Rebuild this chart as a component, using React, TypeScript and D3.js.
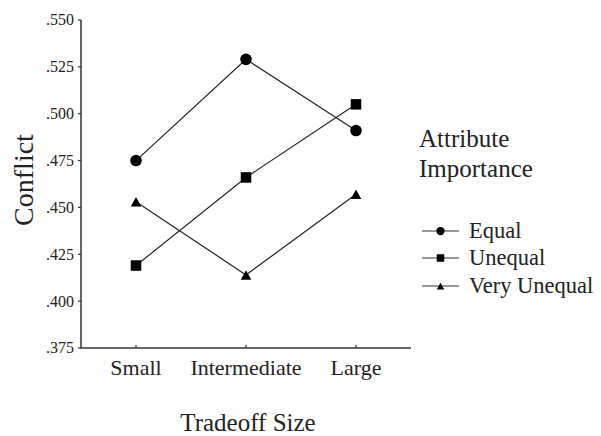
import React from "react";
import * as d3 from "d3";

const categories = ["Small", "Intermediate", "Large"];
const seriesNames = ["Equal", "Unequal", "Very Unequal"];
const equalValues = [0.475, 0.529, 0.491];
const unequalValues = [0.419, 0.466, 0.505];
const veryUnequalValues = [0.453, 0.414, 0.457];
const yTicks = [0.375, 0.4, 0.425, 0.45, 0.475, 0.5, 0.525, 0.55];
const markerShapes = ["circle", "square", "triangle"];

const W = 601;
const H = 436;
const FONT = "Liberation Serif, Times New Roman, Times, serif";

function Marker({ shape, x, y, s }: { shape: string; x: number; y: number; s: number }) {
  if (shape === "circle") return <circle cx={x} cy={y} r={s * 0.55} fill="#000" />;
  if (shape === "square")
    return <rect x={x - s / 2} y={y - s / 2} width={s} height={s} fill="#000" />;
  const h = s * 0.9;
  return (
    <path
      d={`M${x},${y - h / 2} L${x + s / 2},${y + h / 2} L${x - s / 2},${y + h / 2} Z`}
      fill="#000"
    />
  );
}

export default function App() {
  const x = d3.scalePoint<string>().domain(categories).range([81, 411]).padding(0.5);
  const y = d3.scaleLinear().domain([0.375, 0.55]).range([348, 20]);
  const series = [equalValues, unequalValues, veryUnequalValues];
  const line = d3
    .line<number>()
    .x((_, i) => x(categories[i]) as number)
    .y((d) => y(d));
  const fmt = (v: number) => d3.format(".3f")(v).replace(/^0/, "");

  const legendX = 422;
  const legendY = [231, 258, 286];

  return (
    <svg
      width={W}
      height={H}
      style={{ position: "absolute", left: 0, top: 0, background: "#fff", fontFamily: FONT }}
    >
      {/* axes */}
      <line x1={81} x2={81} y1={y(0.55)} y2={348} stroke="#333" strokeWidth={1.5} />
      <line x1={80.25} x2={411} y1={348} y2={348} stroke="#333" strokeWidth={1.5} />
      {yTicks.map((t) => (
        <g key={t}>
          <line x1={78} x2={81} y1={y(t)} y2={y(t)} stroke="#333" strokeWidth={1.2} />
          <text x={74} y={y(t)} dy="0.34em" textAnchor="end" fontSize={16} fill="#222">
            {fmt(t)}
          </text>
        </g>
      ))}
      {categories.map((c) => (
        <g key={c}>
          <line x1={x(c)} x2={x(c)} y1={345} y2={348} stroke="#333" strokeWidth={1.2} />
          <text x={x(c)} y={375} textAnchor="middle" fontSize={22} fill="#222">
            {c}
          </text>
        </g>
      ))}
      <text x={248} y={431} textAnchor="middle" fontSize={25} fill="#222">
        Tradeoff Size
      </text>
      <text
        transform="translate(33,180) rotate(-90)"
        textAnchor="middle"
        fontSize={28}
        fill="#222"
      >
        Conflict
      </text>

      {/* series */}
      {series.map((vals, si) => (
        <g key={si}>
          <path d={line(vals) || ""} fill="none" stroke="#222" strokeWidth={1.2} />
          {vals.map((v, i) => (
            <Marker key={i} shape={markerShapes[si]} x={x(categories[i]) as number} y={y(v)} s={10.5} />
          ))}
        </g>
      ))}

      {/* legend */}
      <text x={419} y={147} fontSize={25} fill="#222">
        Attribute
      </text>
      <text x={419} y={177} fontSize={25} fill="#222">
        Importance
      </text>
      {seriesNames.map((n, si) => (
        <g key={n}>
          <line
            x1={legendX}
            x2={legendX + 37}
            y1={legendY[si]}
            y2={legendY[si]}
            stroke="#333"
            strokeWidth={1.2}
          />
          <Marker shape={markerShapes[si]} x={legendX + 18.5} y={legendY[si]} s={7.5} />
          <text x={469} y={legendY[si]} dy="0.33em" fontSize={22.5} fill="#222">
            {n}
          </text>
        </g>
      ))}
    </svg>
  );
}
